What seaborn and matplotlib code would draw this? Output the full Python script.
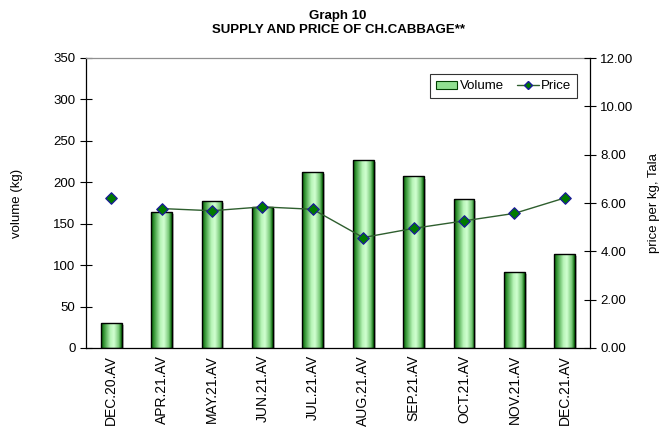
import numpy as np
import pandas as pd
import matplotlib
matplotlib.use("Agg")
import matplotlib.pyplot as plt
import seaborn as sns
from matplotlib.colors import LinearSegmentedColormap
from matplotlib.patches import Rectangle
from matplotlib.lines import Line2D

categories = ["DEC.20.AV", "APR.21.AV", "MAY.21.AV", "JUN.21.AV", "JUL.21.AV",
              "AUG.21.AV", "SEP.21.AV", "OCT.21.AV", "NOV.21.AV", "DEC.21.AV"]
volume = [30, 164, 177, 170, 212, 227, 207, 180, 92, 114]
price = [6.21, 5.77, 5.68, 5.84, 5.74, 4.57, 4.95, 5.26, 5.57, 6.21]
vol_ticks = [0, 50, 100, 150, 200, 250, 300, 350]
price_ticks = [0, 2, 4, 6, 8, 10, 12]

sns.set_theme(style="white")
plt.rcParams['font.family'] = ['Liberation Sans', 'DejaVu Sans']
plt.rcParams.update({"text.color": "black", "axes.labelcolor": "black",
                     "xtick.color": "black", "ytick.color": "black"})

df = pd.DataFrame({"month": categories, "volume": volume, "price": price})

fig = plt.figure(figsize=(6.62, 4.28), dpi=100)
ax = fig.add_axes([86/662, 1-348/428, (590-86)/662, (348-58)/428])

sns.barplot(data=df, x="month", y="volume", ax=ax, width=0.41,
            color="#90e090", edgecolor="black", linewidth=1.0, zorder=2)

cmap = LinearSegmentedColormap.from_list(
    "g", [(0.0, "#005a00"), (0.15, "#3a9a3a"), (0.45, "#b8f5b8"),
          (0.62, "#d0ffd0"), (0.85, "#7ccc7c"), (1.0, "#006000")])
grad = np.linspace(0, 1, 64).reshape(1, -1)
for p in list(ax.patches):
    x0, y0 = p.get_x(), p.get_y()
    w, h = p.get_width(), p.get_height()
    sh = Rectangle((x0 + 0.04, y0), w, h - 2.5, facecolor="#a0a0a0", edgecolor="none",
                   zorder=1, alpha=0.7)
    ax.add_patch(sh)
    im = ax.imshow(grad, cmap=cmap, aspect="auto", extent=(x0, x0 + w, y0, y0 + h),
                   zorder=2.5)
    im.set_clip_path(p)
    p.set_facecolor("none")
    p.set_zorder(3)

ax.set_xlim(-0.5, len(categories) - 0.5)
ax.set_ylim(0, 350)
ax.set_yticks(vol_ticks)
ax.set_yticklabels([str(v) for v in vol_ticks], fontsize=9.5)
ax.set_xticks(range(len(categories)))
ax.set_xticklabels(categories, rotation=90, fontsize=10)
ax.set_xticks(np.arange(-0.5, len(categories), 1.0), minor=True)
ax.tick_params(axis="x", which="major", length=0, pad=5)
ax.tick_params(axis="x", which="minor", length=8, width=0.8, direction="inout", color="black")
ax.tick_params(axis="y", which="major", length=8, width=0.8, direction="inout", color="black", left=True)
ax.set_xlabel("")
ax.set_ylabel("volume (kg)", fontsize=9.5, labelpad=22)
for s in ["left", "bottom", "right"]:
    ax.spines[s].set_color("black")
    ax.spines[s].set_linewidth(0.9)
ax.spines["top"].set_color("#909090")
ax.spines["top"].set_linewidth(0.9)

ax2 = ax.twinx()
pos = np.arange(len(categories))
sns.lineplot(x=pos[1:], y=price[1:], ax=ax2, color="#2e5e2e", linewidth=1.0, zorder=4)
ax2.scatter(pos, price, marker="D", s=34, facecolor="#007a00", edgecolor="#1a1a99",
            linewidth=0.9, zorder=5)
ax2.set_ylim(0, 12)
ax2.set_xlim(-0.5, len(categories) - 0.5)
ax2.set_yticks(price_ticks)
ax2.set_yticklabels([f"{v:.2f}" for v in price_ticks], fontsize=9.5)
ax2.tick_params(axis="y", which="major", length=8, width=0.8, direction="inout", color="black", right=True)
ax2.set_ylabel("price per kg, Tala", fontsize=9.5, labelpad=10)
for s in ax2.spines.values():
    s.set_visible(False)
ax2.grid(False)
ax.grid(False)

h1 = Rectangle((0, 0), 1, 1, facecolor="#90e090", edgecolor="#004000", linewidth=0.8)
h2 = Line2D([], [], color="#2e5e2e", linewidth=1.0, marker="D", markersize=4.5,
            markerfacecolor="#007a00", markeredgecolor="#1a1a99")
leg = ax2.legend([h1, h2], ["Volume", "Price"], loc="upper right", bbox_to_anchor=(0.988, 0.966),
                 ncol=2, fontsize=9.5, frameon=True, fancybox=False, handlelength=1.6,
                 handleheight=0.6, handletextpad=0.2, columnspacing=1.0, borderpad=0.45)
leg.get_frame().set_edgecolor("black")
leg.get_frame().set_linewidth(0.8)

fig.text(338/662, 1-16/428, "Graph 10", ha="center", va="center", fontsize=9.5, fontweight="bold")
fig.text(338/662, 1-30/428, "SUPPLY AND PRICE OF CH.CABBAGE**", ha="center", va="center",
         fontsize=9.5, fontweight="bold")

fig.savefig("out.png", dpi=100)
